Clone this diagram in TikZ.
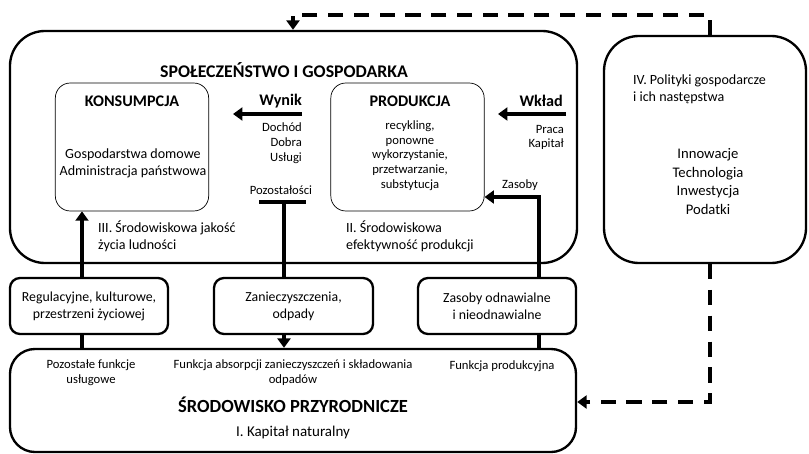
\documentclass[tikz,border=0pt]{standalone}
\usepackage{fontspec}
\setmainfont{Carlito}
\usetikzlibrary{arrows.meta}

\begin{document}
\begin{tikzpicture}[x=0.03cm, y=-0.03cm]
    \tikzstyle{bigbox} = [rectangle, rounded corners=1.05cm, line width=2pt, draw=black, inner sep=0pt]
    \tikzstyle{thinbox} = [rectangle, rounded corners=0.45cm, line width=0.6pt, draw=black, inner sep=0pt, minimum width=4.6cm, minimum height=3.84cm]
    \tikzstyle{midbox} = [rectangle, rounded corners=0.3cm, line width=2pt, draw=black, minimum height=1.68cm, align=center, font=\fontsize{11.8}{14.5}\selectfont]
    \tikzstyle{head} = [font=\bfseries\fontsize{13.8}{16}\selectfont]
    \tikzstyle{txt} = [align=center, font=\fontsize{12}{14.5}\selectfont]
    \tikzstyle{small} = [font=\fontsize{10.8}{12.6}\selectfont]
    \tikzstyle{link} = [line width=3pt]
    \tikzstyle{arrow} = [line width=3pt, -{Triangle[length=8pt,width=11pt]}]
    \tikzstyle{dasharrow} = [line width=3pt, dash pattern=on 13pt off 9pt, -{Triangle[length=8pt,width=11pt]}]
    \useasboundingbox (0,0) rectangle (809,454);
    % boxes
    \node (soc) [bigbox, minimum width=17.01cm, minimum height=6.96cm] at (293.5,147) {};
    \node (kons) [thinbox] at (132,147) {};
    \node (prod) [thinbox] at (407.5,147) {};
    \node (pol) [bigbox, minimum width=6.06cm, minimum height=6.81cm] at (705,149.5) {};
    \node (env) [bigbox, rounded corners=0.75cm, minimum width=16.98cm, minimum height=3.09cm] at (293,400.5) {};
    \node (reg) [midbox, minimum width=4.74cm] at (89,306) {Regulacyjne, kulturowe,\\przestrzeni życiowej};
    \node (zan) [midbox, minimum width=4.77cm] at (293.5,306) {Zanieczyszczenia,\\odpady};
    \node (zas) [midbox, minimum width=4.74cm] at (497,306) {Zasoby odnawialne\\i nieodnawialne};
    % labels
    \node (soctitle) [head, font=\bfseries\fontsize{15.2}{18}\selectfont] at (284,70) {SPOŁECZEŃSTWO I GOSPODARKA};
    \node (konstitle) [head] at (132,101) {KONSUMPCJA};
    \node (konstxt) [txt] at (133,163) {Gospodarstwa domowe\\Administracja państwowa};
    \node (prodtitle) [head] at (410,101) {PRODUKCJA};
    \node (prodtxt) [small, align=center] at (410,155.5) {recykling,\\ponowne\\wykorzystanie,\\przetwarzanie,\\substytucja};
    \node (wynik) [head, anchor=east] at (306,101) {Wynik};
    \node (wyniktxt) [small, align=right, anchor=east] at (306,143) {Dochód\\Dobra\\Usługi};
    \node (wklad) [head, anchor=east] at (567,101) {Wkład};
    \node (wkladtxt) [small, align=right, anchor=east] at (568,137.5) {Praca\\Kapitał};
    \node (resid) [small] at (281,190) {Pozostałości};
    \node (zasoby) [small] at (520,185) {Zasoby};
    \node (qualtxt) [txt, align=left, anchor=west] at (94,236.5) {III. Środowiskowa jakość\\życia ludności};
    \node (efftxt) [txt, align=left, anchor=west] at (342,236.5) {II. Środowiskowa\\efektywność produkcji};
    \node (poltitle) [txt, align=left, anchor=west] at (629,89.5) {IV. Polityki gospodarcze\\i ich następstwa};
    \node (poltxt) [txt, font=\fontsize{12.5}{16}\selectfont] at (708,181.5) {Innowacje\\Technologia\\Inwestycja\\Podatki};
    \node (envserv) [small, align=center] at (91,373) {Pozostałe funkcje\\usługowe};
    \node (envabs) [small, align=center] at (293,373) {Funkcja absorpcji zanieczyszczeń i składowania\\odpadów};
    \node (envprod) [small] at (502,366) {Funkcja produkcyjna};
    \node (envtitle) [font=\bfseries\fontsize{15.8}{18}\selectfont] at (293,405) {ŚRODOWISKO PRZYRODNICZE};
    \node (envcap) [txt, font=\fontsize{12.8}{15}\selectfont] at (293,432) {I. Kapitał naturalny};
    % connector points
    \coordinate (wynikA) at (302,114);
    \coordinate (wynikB) at (233,114);
    \coordinate (wkladA) at (566,114);
    \coordinate (wkladB) at (498,114);
    \coordinate (qual) at (82,240);
    \coordinate (barL) at (259,202);
    \coordinate (barR) at (306,202);
    \coordinate (barM) at (284,202);
    \coordinate (res) at (539,197);
    \coordinate (poltop) at (710,15);
    \coordinate (socin) at (293,15);
    \coordinate (polbot) at (710,402);
    % connectors
    \draw[arrow] (wynikA) -- (wynikB);
    \draw[arrow] (wkladA) -- (wkladB);
    \draw[arrow] (reg.north -| qual) -- (kons.south -| qual);
    \draw[link] (reg.south -| qual) -- (env.north -| qual);
    \draw[link] (barL) -- (barR);
    \draw[link] (barM) -- (zan.north -| barM);
    \draw[arrow] (zan.south -| barM) -- (env.north -| barM);
    \draw[arrow] (zas.north -| res) -- (res) -- (prod.east |- res);
    \draw[link] (zas.south -| res) -- (env.north -| res);
    \draw[dasharrow] (pol.north -| poltop) -- (poltop) -- (socin) -- (soc.north -| socin);
    \draw[dasharrow] (pol.south -| polbot) -- (polbot) -- (env.east |- polbot);
\end{tikzpicture}
\end{document}
